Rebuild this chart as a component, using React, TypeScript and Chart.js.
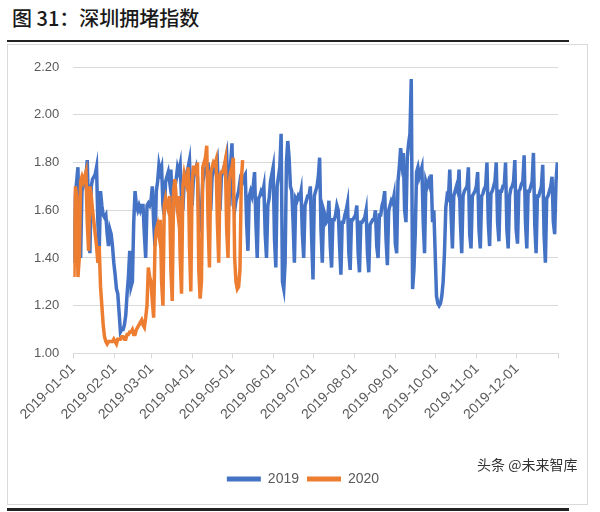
import React, { useEffect, useRef } from 'react';
import { Chart, registerables } from 'chart.js';

Chart.register(...registerables);

// Month boundaries (day index in the year) and their tick labels
const monthTicks = [0, 31, 59, 90, 120, 151, 181, 212, 243, 273, 304, 334, 365];
const monthLabels = [
  '2019-01-01', '2019-02-01', '2019-03-01', '2019-04-01', '2019-05-01', '2019-06-01',
  '2019-07-01', '2019-08-01', '2019-09-01', '2019-10-01', '2019-11-01', '2019-12-01',
];
const yTicks = [1.0, 1.2, 1.4, 1.6, 1.8, 2.0, 2.2];
const seriesNames = ['2019', '2020'];

// 2019 daily congestion index (Jan 1 = Tuesday), one row per week
const index2019 = [
  1.38, 1.66, 1.72, 1.78, 1.50, 1.40, 1.68,
  1.70, 1.73, 1.74, 1.81, 1.58, 1.42, 1.70,
  1.73, 1.74, 1.75, 1.78, 1.55, 1.42, 1.68,
  1.62, 1.58, 1.57, 1.58, 1.50, 1.45, 1.52,
  1.50, 1.45, 1.38, 1.33, 1.27, 1.25, 1.17,
  1.09, 1.10, 1.10, 1.12, 1.16, 1.25, 1.32,
  1.43, 1.28, 1.30, 1.55, 1.68, 1.62, 1.60,
  1.62, 1.60, 1.62, 1.62, 1.50, 1.40, 1.62,
  1.63, 1.62, 1.64, 1.70, 1.55, 1.45, 1.68,
  1.72, 1.79, 1.76, 1.78, 1.62, 1.58, 1.72,
  1.74, 1.76, 1.72, 1.77, 1.62, 1.60, 1.70,
  1.73, 1.78, 1.76, 1.79, 1.65, 1.60, 1.72,
  1.75, 1.76, 1.78, 1.81, 1.66, 1.62, 1.74,
  1.76, 1.78, 1.74, 1.58, 1.55, 1.60, 1.72,
  1.75, 1.77, 1.76, 1.80, 1.64, 1.60, 1.74,
  1.76, 1.78, 1.77, 1.80, 1.66, 1.60, 1.74,
  1.76, 1.78, 1.80, 1.83, 1.68, 1.62, 1.80,
  1.88, 1.62, 1.60, 1.64, 1.66, 1.68, 1.72,
  1.70, 1.72, 1.74, 1.75, 1.55, 1.43, 1.66,
  1.68, 1.66, 1.70, 1.76, 1.55, 1.40, 1.65,
  1.66, 1.68, 1.67, 1.70, 1.50, 1.40, 1.62,
  1.65, 1.72, 1.75, 1.78, 1.48, 1.36, 1.70,
  1.74, 1.78, 1.92, 1.30, 1.27, 1.38, 1.80,
  1.89, 1.82, 1.70, 1.68, 1.55, 1.38, 1.65,
  1.64, 1.66, 1.65, 1.68, 1.50, 1.40, 1.62,
  1.64, 1.66, 1.66, 1.70, 1.48, 1.31, 1.66,
  1.68, 1.70, 1.74, 1.82, 1.52, 1.38, 1.60,
  1.58, 1.55, 1.56, 1.64, 1.45, 1.36, 1.56,
  1.56, 1.58, 1.62, 1.60, 1.45, 1.33, 1.55,
  1.55, 1.58, 1.60, 1.63, 1.42, 1.35, 1.56,
  1.56, 1.57, 1.58, 1.62, 1.42, 1.34, 1.55,
  1.55, 1.56, 1.57, 1.60, 1.42, 1.34, 1.54,
  1.55, 1.56, 1.56, 1.60, 1.45, 1.40, 1.58,
  1.58, 1.62, 1.64, 1.68, 1.48, 1.37, 1.60,
  1.62, 1.64, 1.63, 1.66, 1.46, 1.42, 1.72,
  1.78, 1.86, 1.80, 1.84, 1.60, 1.55, 1.82,
  1.88, 1.92, 2.15, 1.27, 1.35, 1.50, 1.76,
  1.78, 1.74, 1.76, 1.78, 1.55, 1.42, 1.72,
  1.70, 1.72, 1.70, 1.75, 1.55, 1.60, 1.42,
  1.24, 1.21, 1.20, 1.21, 1.24, 1.30, 1.42,
  1.61, 1.66, 1.65, 1.77, 1.58, 1.44, 1.66,
  1.68, 1.70, 1.68, 1.77, 1.55, 1.42, 1.66,
  1.68, 1.69, 1.70, 1.78, 1.50, 1.44, 1.66,
  1.67, 1.68, 1.70, 1.76, 1.52, 1.44, 1.66,
  1.67, 1.69, 1.70, 1.80, 1.55, 1.45, 1.67,
  1.68, 1.70, 1.72, 1.80, 1.55, 1.47, 1.68,
  1.68, 1.70, 1.70, 1.80, 1.52, 1.44, 1.66,
  1.69, 1.70, 1.72, 1.81, 1.52, 1.46, 1.68,
  1.69, 1.71, 1.72, 1.83, 1.55, 1.44, 1.68,
  1.68, 1.70, 1.72, 1.84, 1.54, 1.42, 1.66,
  1.66, 1.68, 1.70, 1.79, 1.50, 1.38, 1.65,
  1.66, 1.68, 1.70, 1.74, 1.55, 1.50, 1.72,
  1.80,
];

// 2020 daily congestion index (Jan 1 = Wednesday), one row per week
const index2020 = [
  1.32, 1.70, 1.66, 1.32, 1.40, 1.72, 1.74,
  1.72, 1.74, 1.76, 1.55, 1.43, 1.70, 1.66,
  1.60, 1.55, 1.50, 1.45, 1.38, 1.45, 1.28,
  1.20, 1.12, 1.07, 1.05, 1.04, 1.05, 1.05,
  1.05, 1.05, 1.06, 1.05, 1.04, 1.06, 1.06,
  1.06, 1.07, 1.07, 1.06, 1.06, 1.08, 1.08,
  1.09, 1.09, 1.10, 1.08, 1.08, 1.10, 1.11,
  1.12, 1.13, 1.14, 1.12, 1.11, 1.15, 1.20,
  1.36, 1.32, 1.30, 1.22, 1.15, 1.45, 1.52,
  1.54, 1.50, 1.56, 1.30, 1.20, 1.62, 1.65,
  1.62, 1.60, 1.66, 1.35, 1.22, 1.68, 1.73,
  1.65, 1.60, 1.66, 1.40, 1.25, 1.70, 1.75,
  1.72, 1.70, 1.78, 1.45, 1.26, 1.72, 1.78,
  1.78, 1.76, 1.80, 1.35, 1.23, 1.30, 1.78,
  1.80, 1.82, 1.87, 1.55, 1.36, 1.76, 1.78,
  1.80, 1.79, 1.81, 1.55, 1.38, 1.75, 1.76,
  1.76, 1.78, 1.81, 1.52, 1.40, 1.72, 1.76,
  1.78, 1.82, 1.40, 1.30, 1.27, 1.28, 1.35,
  1.72, 1.81,
];

const BLUE = '#4472C4';
const ORANGE = '#ED7D31';
const FONT = "'Liberation Sans', 'DejaVu Sans', sans-serif";

const legendShift = {
  id: 'legendShift',
  afterLayout(chart: any) {
    const l = chart.legend;
    if (l) {
      l.left += 14;
      l.right += 14;
    }
  },
};

export default function App() {
  const canvasRef = useRef<HTMLCanvasElement | null>(null);

  useEffect(() => {
    const canvas = canvasRef.current;
    if (!canvas) return;
    const toPoints = (arr: number[]) => arr.map((v, i) => ({ x: i + 0.5, y: v }));
    const chart = new Chart(canvas, {
      type: 'line',
      data: {
        datasets: [
          {
            label: seriesNames[0],
            data: toPoints(index2019),
            borderColor: BLUE,
            backgroundColor: BLUE,
            borderWidth: 3.5,
            pointRadius: 0,
            tension: 0,
            order: 1,
          },
          {
            label: seriesNames[1],
            data: toPoints(index2020),
            borderColor: ORANGE,
            backgroundColor: ORANGE,
            borderWidth: 3.5,
            pointRadius: 0,
            tension: 0,
            order: 0,
          },
        ],
      },
      plugins: [legendShift],
      options: {
        animation: false,
        responsive: false,
        maintainAspectRatio: false,
        layout: { padding: { left: 20, right: 42, top: 67, bottom: 16 } },
        scales: {
          x: {
            type: 'linear',
            min: 0,
            max: 365,
            afterBuildTicks: (scale: any) => {
              scale.ticks = monthTicks.map((v) => ({ value: v }));
            },
            afterFit: (scale: any) => {
              scale.height = scale.height + 39;
            },
            ticks: {
              autoSkip: false,
              maxRotation: 45,
              minRotation: 45,
              color: '#595959',
              font: { family: FONT, size: 14 },
              padding: 2,
              callback: (_v: any, i: number) => monthLabels[i] ?? '',
            },
            grid: {
              drawOnChartArea: false,
              drawTicks: true,
              tickLength: 5,
              color: '#D9D9D9',
              lineWidth: 1,
            },
            border: { display: true, color: '#D9D9D9', width: 1 },
          },
          y: {
            min: 1.0,
            max: 2.2,
            afterBuildTicks: (scale: any) => {
              scale.ticks = yTicks.map((v) => ({ value: v }));
            },
            ticks: {
              color: '#595959',
              font: { family: FONT, size: 13 },
              padding: 14,
              callback: (v: any) => Number(v).toFixed(2),
            },
            grid: { color: '#D9D9D9', lineWidth: 1, drawTicks: false },
            border: { display: false },
          },
        },
        plugins: {
          legend: {
            position: 'bottom',
            labels: {
              boxWidth: 34,
              boxHeight: 5,
              padding: 8,
              color: '#595959',
              font: { family: FONT, size: 14 },
              sort: (a: any, b: any) => a.datasetIndex - b.datasetIndex,
              generateLabels: (c: any) =>
                (Chart.defaults.plugins.legend.labels.generateLabels as any)(c).map((l: any) => ({
                  ...l,
                  lineWidth: 0,
                })),
            },
          },
          tooltip: { enabled: false },
        },
      },
    } as any);
    return () => chart.destroy();
  }, []);

  return (
    <div
      style={{
        position: 'fixed',
        left: 0,
        top: 0,
        width: 600,
        height: 512,
        background: '#ffffff',
        overflow: 'hidden',
      }}
    >
      <div
        style={{
          position: 'absolute',
          left: 12,
          top: 4,
          fontFamily: "'Noto Sans CJK SC', sans-serif",
          fontSize: 20,
          fontWeight: 500,
          color: '#1a1a1a',
          whiteSpace: 'nowrap',
          lineHeight: '28px',
        }}
      >
        图 31：深圳拥堵指数
      </div>
      <div style={{ position: 'absolute', left: 7, top: 40, width: 562, height: 2, background: '#222' }} />
      <div
        style={{
          position: 'absolute',
          left: 7,
          top: 44,
          width: 581,
          height: 461,
          border: '1px solid #D9D9D9',
          boxSizing: 'border-box',
        }}
      />
      <div style={{ position: 'absolute', left: 7, top: 508, width: 562, height: 3, background: '#222' }} />
      <canvas
        ref={canvasRef}
        width={600}
        height={512}
        style={{ position: 'absolute', left: 0, top: 0, width: 600, height: 512 }}
      />
      <div
        style={{
          position: 'absolute',
          left: 477,
          top: 454,
          fontFamily: "'Noto Sans CJK SC', sans-serif",
          fontSize: 14,
          color: '#333',
          whiteSpace: 'nowrap',
          lineHeight: '20px',
        }}
      >
        头条 @未来智库
      </div>
    </div>
  );
}
